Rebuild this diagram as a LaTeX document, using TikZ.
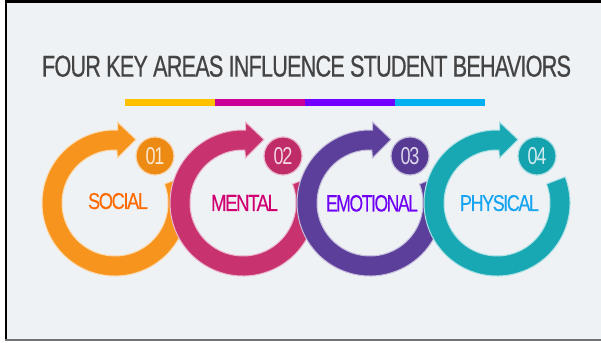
\documentclass[tikz,border=0pt]{standalone}
\usepackage{fontspec}
\setmainfont{Liberation Sans}
\newfontfamily\titlefont[LetterSpace=-4,FakeBold=0.6]{Liberation Sans}
\newfontfamily\labfont[LetterSpace=-8,FakeBold=0.15]{Liberation Sans}
\newfontfamily\digfont[LetterSpace=-6]{Liberation Sans}
\usepackage{graphicx}
\definecolor{bgc}{HTML}{EEF2F5}
\definecolor{titlec}{HTML}{444444}
\definecolor{barA}{HTML}{FFC000}
\definecolor{barB}{HTML}{CC0099}
\definecolor{barC}{HTML}{7000FF}
\definecolor{barD}{HTML}{00B0F0}
\definecolor{ringA}{HTML}{F7941D}
\definecolor{ringB}{HTML}{C7326F}
\definecolor{ringC}{HTML}{5B3F9B}
\definecolor{ringD}{HTML}{17A8B4}
\definecolor{numA}{HTML}{EC8A14}
\definecolor{numB}{HTML}{C02C68}
\definecolor{numC}{HTML}{563A94}
\definecolor{numD}{HTML}{14A2AE}
\definecolor{labA}{HTML}{FF6A00}
\definecolor{labB}{HTML}{D10070}
\definecolor{labC}{HTML}{7000F5}
\definecolor{labD}{HTML}{14A4F0}
\tikzset{
  ringpic/.pic={
    \path[pic actions] (21:73) arc[start angle=21, end angle=-272, radius=73]
      -- (2.5,81) -- (21,63.5) -- (2.5,45) -- (-272:53)
      arc[start angle=-272, end angle=21, radius=53] -- cycle;
  },
  numcirc/.style={circle, minimum size=38pt, inner sep=0pt, line width=1.2pt},
  labtxt/.style={inner sep=0pt, anchor=base},
}
\newcommand{\numtext}[2]{\textcolor{#1}{\resizebox{19pt}{17pt}{\digfont #2}}}
\newcommand{\labtext}[3]{\resizebox{#1}{#2}{\labfont #3}}
\begin{document}
\begin{tikzpicture}[x=1pt,y=1pt]
\useasboundingbox (0,0) rectangle (601,342);
% frame and background
\fill[white] (0,0) rectangle (601,342);
\fill[bgc] (7,1) rectangle (601,339.3);
\fill[black] (5,339.3) rectangle (601,342);
\fill[black] (5,1) rectangle (7.3,342);
\fill[black!55] (5,1) rectangle (601,2.7);
% title
\node[inner sep=0pt, anchor=base, text=titlec] (title) at (306.5,265.4)
  {\resizebox{529pt}{21pt}{\titlefont FOUR KEY AREAS INFLUENCE STUDENT BEHAVIORS}};
% colour bar
\fill[barA] (125,235.5) rectangle (215,243);
\fill[barB] (215,235.5) rectangle (305,243);
\fill[barC] (305,235.5) rectangle (395,243);
\fill[barD] (395,235.5) rectangle (485,243);
% rings
\pic[fill=ringA, draw=ringA!35!white, line width=1pt] at (115,139) {ringpic};
\node[numcirc, fill=numA, draw=numA!35!white] (n1) at (155,186) {\numtext{white!80!numA}{01}};
\pic[fill=ringB, draw=ringB!35!white, line width=1pt] at (243,139) {ringpic};
\node[numcirc, fill=numB, draw=numB!35!white] (n2) at (283,186) {\numtext{white!80!numB}{02}};
\pic[fill=ringC, draw=ringC!35!white, line width=1pt] at (370,139) {ringpic};
\node[numcirc, fill=numC, draw=numC!35!white] (n3) at (410,186) {\numtext{white!80!numC}{03}};
\pic[fill=ringD, draw=ringD!35!white, line width=1pt] at (497,139) {ringpic};
\node[numcirc, fill=numD, draw=numD!35!white] (n4) at (537,186) {\numtext{white!80!numD}{04}};
% labels
\node[labtxt, text=labA] (l1) at (118,133) {\labtext{60pt}{16pt}{SOCIAL}};
\node[labtxt, text=labB] (l2) at (244.5,131) {\labtext{67pt}{16pt}{MENTAL}};
\node[labtxt, text=labC] (l3) at (372,130.5) {\labtext{92pt}{16.5pt}{EMOTIONAL}};
\node[labtxt, text=labD] (l4) at (499.5,131) {\labtext{79pt}{16pt}{PHYSICAL}};
\end{tikzpicture}
\end{document}
